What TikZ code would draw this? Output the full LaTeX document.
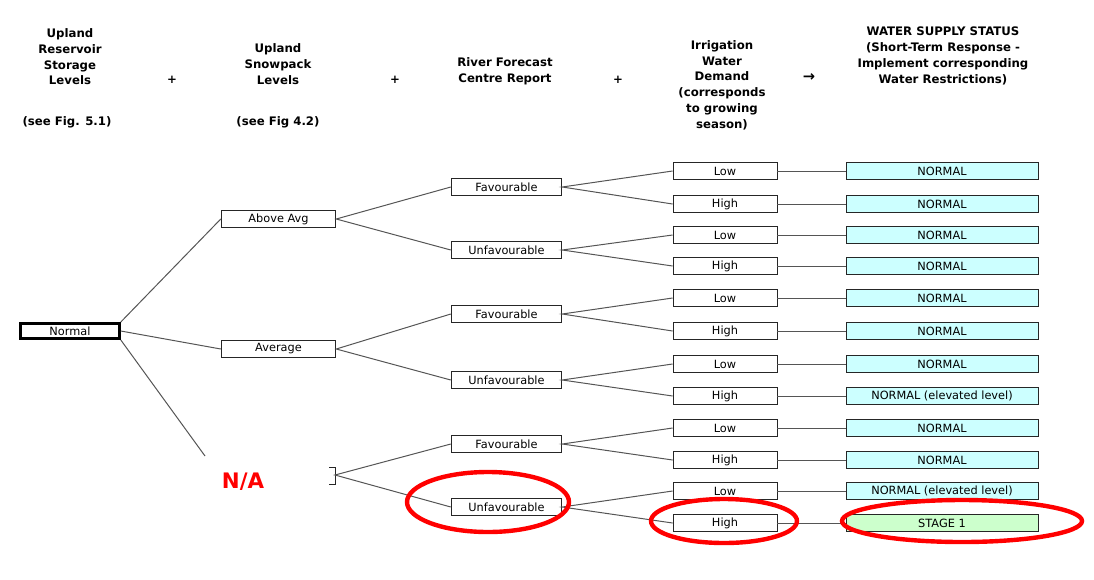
\documentclass[tikz,border=0pt]{standalone}
\usepackage{fontspec}
\setmainfont{DejaVu Sans}
\usetikzlibrary{calc}
\definecolor{linegray}{RGB}{85,85,85}
\definecolor{normalfill}{RGB}{204,255,255}
\definecolor{stagefill}{RGB}{204,255,204}
\tikzset{
  box/.style={draw=black!85, line width=0.6pt, inner sep=0pt, minimum height=12.3pt, font=\fontsize{8.5}{10}\selectfont},
  snowbox/.style={box, minimum width=86pt},
  riverbox/.style={box, minimum width=83pt},
  demandbox/.style={box, minimum width=78pt},
  statusbox/.style={box, minimum width=144pt, fill=normalfill},
  link/.style={draw=linegray, line width=0.75pt},
  head/.style={align=center, inner sep=0pt, font=\fontsize{8.8}{11.8}\selectfont\bfseries},
  ring/.style={draw=red, line width=3.3pt},
}
\begin{document}
\begin{tikzpicture}[x=0.75pt,y=-0.75pt]
\useasboundingbox (0,0) rectangle (1094,579);
% column headings
\node[head] (hres) at (70,57) {Upland\\Reservoir\\Storage\\Levels};
\node[head] (hsnow) at (278,64) {Upland\\Snowpack\\Levels};
\node[head] (hriver) at (505,71.5) {River Forecast\\Centre Report};
\node[head] (hdemand) at (722,85) {Irrigation\\Water\\Demand\\(corresponds\\to growing\\season)};
\node[head] (hstatus) at (943,56) {WATER SUPPLY STATUS\\(Short-Term Response -\\Implement corresponding\\Water Restrictions)};
\node[head] (fres) at (67,122) {(see Fig. 5.1)};
\node[head] (fsnow) at (278,122) {(see Fig 4.2)};
\foreach \x in {172,395,618}{
\node[head] at (\x,80) {+};}
\node[head, font=\fontsize{11}{12}\selectfont\bfseries] (arr) at (809,78) {→};
% storage level
\node[box, draw=black, line width=2.25pt, minimum width=74pt, minimum height=11.3pt] (normal) at (70,331) {Normal};
% snowpack levels
\node[snowbox] (above) at (278.5,219) {Above Avg};
\node[snowbox] (avg) at (278.5,349) {Average};
\node[text=red, font=\fontsize{16}{18}\selectfont\bfseries] (na) at (243,482) {N/A};
\coordinate (naend) at (205,456);
\coordinate (nabr) at (335,475);
\draw[black!85, line width=0.6pt] (329,467) -- (335,467) -- (335,484) -- (329,484);
\draw[link] (normal.north east) -- (above.west);
\draw[link] (normal.east) -- (avg.west);
\draw[link] (normal.south east) -- (naend);
% river forecast
\foreach \i/\y/\txt in {1/187/Favourable,2/250/Unfavourable,3/314/Favourable,4/380/Unfavourable,5/444/Favourable,6/507/Unfavourable}{
\node[riverbox] (r\i) at (506.5,\y) {\txt};}
\draw[link] (r1.west) -- (above.east) -- (r2.west);
\draw[link] (r3.west) -- (avg.east) -- (r4.west);
\draw[link] (r5.west) -- (nabr) -- (r6.west);
% irrigation demand
\foreach \i/\y in {1/171,2/204,3/235,4/266,5/298,6/331,7/364,8/396,9/428,10/460,11/491,12/523}{
\pgfmathtruncatemacro{\odd}{mod(\i,2)}
\ifnum\odd=1 \def\lvl{Low}\else\def\lvl{High}\fi
\node[demandbox] (d\i) at (725,\y) {\lvl};}
\foreach \r [evaluate=\r as \a using int(2*\r-1), evaluate=\r as \b using int(2*\r)] in {1,...,6}{
\draw[link] (d\a.west) -- (r\r.east) -- (d\b.west);}
% water supply status
\foreach \i/\y/\txt in {1/171/NORMAL,2/204/NORMAL,3/235/NORMAL,4/266/NORMAL,5/298/NORMAL,6/331/NORMAL,7/364/NORMAL,8/396/NORMAL (elevated level),9/428/NORMAL,10/460/NORMAL,11/491/NORMAL (elevated level)}{
\node[statusbox] (w\i) at (942,\y) {\txt};}
\node[statusbox, fill=stagefill] (w12) at (942,523) {STAGE 1};
\foreach \i in {1,...,12}{
\draw[link] (d\i.east) -- (w\i.west);}
% red rings
\draw[ring] (488,502) ellipse [x radius=60.75pt, y radius=22.5pt];
\draw[ring] (724,521) ellipse [x radius=54.75pt, y radius=16.5pt];
\draw[ring] (962,521) ellipse [x radius=90pt, y radius=15.75pt];
\end{tikzpicture}
\end{document}
